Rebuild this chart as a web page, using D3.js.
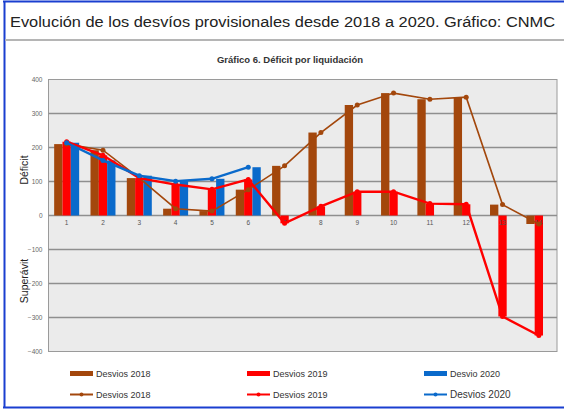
<!DOCTYPE html>
<html lang="es">
<head>
<meta charset="UTF-8">
<title>Déficit por liquidación</title>
<script src="https://cdn.jsdelivr.net/npm/d3@7"></script>
<style>
  body { margin: 0; background: #fff; }
  text { font-family: "Liberation Sans", Arial, sans-serif; }
</style>
</head>
<body>
<script>
// datos
var meses = [1, 2, 3, 4, 5, 6, 7, 8, 9, 10, 11, 12, 13, 14];
var desvios2018 = [210, 192, 110, 20, 13, 76, 146, 244, 325, 360, 342, 348, 32, -25];
var desvios2019 = [217, 177, 110, 91, 77, 106, -23, 27, 70, 70, 35, 33, -297, -353];
var desvios2020 = [214, 162, 117, 101, 108, 142, null, null, null, null, null, null, null, null];
var yTicks = [-400, -300, -200, -100, 0, 100, 200, 300, 400];
var seriesNames = ["Desvios 2018", "Desvios 2019", "Desvio 2020"];
var lineNames = ["Desvios 2018", "Desvios 2019", "Desvios 2020"];
var colors = ["#a3470c", "#ff0000", "#0a6acb"];

var width = 564, height = 410;

var svg = d3.select("body").append("svg")
    .attr("width", width)
    .attr("height", height);

// marco
svg.append("rect").attr("x", 0).attr("y", 0).attr("width", width).attr("height", height).attr("fill", "#fff");
svg.append("line").attr("x1", 3).attr("x2", width).attr("y1", 1.5).attr("y2", 1.5)
    .attr("stroke", "#1a3fd0").attr("stroke-width", 2);
svg.append("line").attr("x1", 4.5).attr("x2", 4.5).attr("y1", 1).attr("y2", 408)
    .attr("stroke", "#1a3fd0").attr("stroke-width", 2);
svg.append("line").attr("x1", 3).attr("x2", width).attr("y1", 407.5).attr("y2", 407.5)
    .attr("stroke", "#1a3fd0").attr("stroke-width", 2);
svg.append("line").attr("x1", 5).attr("x2", width).attr("y1", 40).attr("y2", 40)
    .attr("stroke", "#b5b5b5").attr("stroke-width", 2);

svg.append("text")
    .attr("x", 10).attr("y", 27)
    .attr("font-size", 15.5)
    .attr("fill", "#222")
    .attr("textLength", 545)
    .attr("lengthAdjust", "spacingAndGlyphs")
    .text("Evolución de los desvíos provisionales desde 2018 a 2020. Gráfico: CNMC");

svg.append("text")
    .attr("x", 290).attr("y", 63)
    .attr("text-anchor", "middle")
    .attr("font-size", 9.5)
    .attr("font-weight", "bold")
    .attr("fill", "#333")
    .text("Gráfico 6. Déficit por liquidación");

// escalas
var x = d3.scaleBand().domain(meses).range([48.5, 557]);
var x1 = d3.scaleBand().domain([0, 1, 2]).range([0, x.bandwidth()]).paddingOuter(0.68);
var y = d3.scaleLinear().domain([-400, 400]).range([351.5, 79.5]);

// area del grafico
svg.append("rect")
    .attr("x", 48.5).attr("y", 79.5)
    .attr("width", 557 - 48.5).attr("height", 351.5 - 79.5)
    .attr("fill", "#ebebeb")
    .attr("stroke", "#9a9a9a");

svg.append("g").selectAll("line")
    .data(yTicks.filter(function(d){ return d !== 400 && d !== -400; }))
    .enter().append("line")
    .attr("x1", 48.5).attr("x2", 557)
    .attr("y1", function(d){ return y(d); })
    .attr("y2", function(d){ return y(d); })
    .attr("stroke", "#8f8f8f")
    .attr("stroke-width", 1.5);

// eje y
var yAxis = svg.append("g")
    .attr("transform", "translate(48.5,0)")
    .call(d3.axisLeft(y).tickValues(yTicks).tickSize(0).tickPadding(6));
yAxis.select(".domain").remove();
yAxis.selectAll("text").attr("font-size", 6.5).attr("fill", "#666")
    .style("font-family", "Liberation Sans, Arial, sans-serif");

svg.append("text")
    .attr("transform", "translate(28,170) rotate(-90)")
    .attr("text-anchor", "middle")
    .attr("font-size", 10.5).attr("fill", "#222")
    .text("Déficit");
svg.append("text")
    .attr("transform", "translate(28,281) rotate(-90)")
    .attr("text-anchor", "middle")
    .attr("font-size", 10.5).attr("fill", "#222")
    .text("Superávit");

// barras
var allSeries = [desvios2018, desvios2019, desvios2020];
allSeries.forEach(function(values, s) {
    svg.append("g").selectAll("rect")
        .data(meses.map(function(m, i){ return {m: m, v: values[i]}; })
            .filter(function(d){ return d.v != null; }))
        .enter().append("rect")
        .attr("x", function(d){ return x(d.m) + x1(s); })
        .attr("width", x1.bandwidth())
        .attr("y", function(d){ return y(Math.max(0, d.v)); })
        .attr("height", function(d){ return Math.abs(y(d.v) - y(0)); })
        .attr("fill", colors[s]);
});

// eje x (etiquetas sobre el cero)
var xAxis = svg.append("g")
    .attr("transform", "translate(0," + y(0) + ")")
    .call(d3.axisBottom(x).tickSize(0).tickPadding(5));
xAxis.select(".domain").remove();
xAxis.selectAll("text").attr("font-size", 6.5).attr("fill", "#555")
    .style("font-family", "Liberation Sans, Arial, sans-serif");

// lineas
var lineWidths = [1.6, 2.4, 2.4];
allSeries.forEach(function(values, s) {
    var pts = meses.map(function(m, i){ return {m: m, v: values[i]}; });
    var line = d3.line()
        .defined(function(d){ return d.v != null; })
        .x(function(d){ return x(d.m) + x.bandwidth() / 2; })
        .y(function(d){ return y(d.v); });
    svg.append("path")
        .datum(pts)
        .attr("d", line)
        .attr("fill", "none")
        .attr("stroke", colors[s])
        .attr("stroke-width", lineWidths[s]);
    svg.append("g").selectAll("circle")
        .data(pts.filter(function(d){ return d.v != null; }))
        .enter().append("circle")
        .attr("cx", function(d){ return x(d.m) + x.bandwidth() / 2; })
        .attr("cy", function(d){ return y(d.v); })
        .attr("r", 2.5)
        .attr("fill", colors[s]);
});

// leyenda
var legX = [70, 247, 424];
var legend = svg.append("g");
seriesNames.forEach(function(name, s) {
    legend.append("rect")
        .attr("x", legX[s]).attr("y", 371)
        .attr("width", 23).attr("height", 5)
        .attr("fill", colors[s]);
    legend.append("text")
        .attr("x", legX[s] + 26).attr("y", 376.5)
        .attr("font-size", 9).attr("fill", "#333")
        .text(name);
});
lineNames.forEach(function(name, s) {
    legend.append("line")
        .attr("x1", legX[s]).attr("x2", legX[s] + 23)
        .attr("y1", 394.5).attr("y2", 394.5)
        .attr("stroke", colors[s]).attr("stroke-width", 2);
    legend.append("circle")
        .attr("cx", legX[s] + 11.5).attr("cy", 394.5).attr("r", 2)
        .attr("fill", colors[s]);
    legend.append("text")
        .attr("x", legX[s] + 26).attr("y", 397.5)
        .attr("font-size", s === 2 ? 10 : 9).attr("fill", "#333")
        .text(name);
});
</script>
</body>
</html>
